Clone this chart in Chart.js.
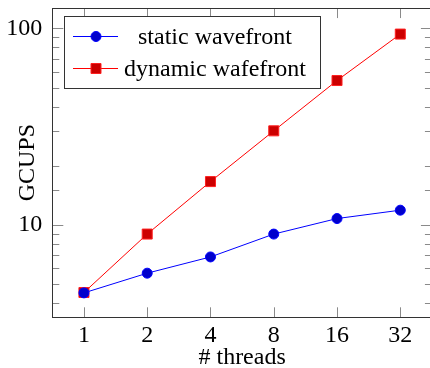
<!DOCTYPE html>
<html><head><meta charset="utf-8">
<script src="https://cdn.jsdelivr.net/npm/chart.js@4/dist/chart.umd.min.js"></script>
<style>
html,body{margin:0;padding:0;overflow:hidden;background:#fff;}
#wrap{width:440px;height:372px;position:relative;}
</style></head>
<body><div id="wrap"><canvas id="c"></canvas></div>
<script>
const threads = ['1','2','4','8','16','32'];
const staticWavefront = [4.5, 5.67, 6.86, 8.97, 10.76, 11.87];
const dynamicWafefront = [4.52, 8.97, 16.6, 30.1, 54.3, 93.6];
const seriesNames = ['static wavefront', 'dynamic wafefront'];
const yMajorLabels = [10, 100];

const FONT = "'Liberation Serif','Times New Roman',serif";
const FS = 24;
const AXIS = '#333333', TICK = '#8a8a8a';

const boxPlugin = {
  id: 'box',
  afterDatasetsDraw(chart) {
    const {ctx, chartArea: a, scales: {x, y}} = chart;
    ctx.save();
    ctx.lineWidth = 1;
    ctx.strokeStyle = TICK;
    ctx.beginPath();
    x.ticks.forEach((t, i) => {
      const px = Math.round(x.getPixelForTick(i)) + 0.5;
      ctx.moveTo(px, a.bottom); ctx.lineTo(px, a.bottom - 10);
      ctx.moveTo(px, a.top); ctx.lineTo(px, a.top + 10);
    });
    y.ticks.forEach(t => {
      const v = t.value;
      if (v < y.min || v > y.max) return;
      const major = Math.abs(Math.log10(v) - Math.round(Math.log10(v))) < 1e-9;
      const len = major ? 11 : 7;
      const py = Math.round(y.getPixelForValue(v)) + 0.5;
      ctx.moveTo(a.left, py); ctx.lineTo(a.left + len, py);
      ctx.moveTo(a.right, py); ctx.lineTo(a.right - len, py);
    });
    ctx.stroke();
    ctx.strokeStyle = AXIS;
    ctx.strokeRect(Math.round(a.left) + 0.5, Math.round(a.top) + 0.5, Math.round(a.right - a.left), Math.round(a.bottom - a.top));
    ctx.restore();
  },
  afterDraw(chart) {
    const {ctx} = chart;
    const L = 64.5, T = 16.5, W = 256, H = 72;
    ctx.save();
    ctx.fillStyle = '#fff';
    ctx.fillRect(L, T, W, H);
    ctx.strokeStyle = AXIS; ctx.lineWidth = 1;
    ctx.strokeRect(L, T, W, H);
    const rows = [36.5, 68.5];
    chart.data.datasets.forEach((ds, i) => {
      const yy = rows[i];
      ctx.strokeStyle = ds.borderColor; ctx.lineWidth = 1;
      ctx.beginPath(); ctx.moveTo(73, yy); ctx.lineTo(118, yy); ctx.stroke();
      ctx.fillStyle = ds.pointBackgroundColor; ctx.strokeStyle = ds.pointBorderColor;
      ctx.beginPath();
      if (ds.pointStyle === 'rect') { ctx.rect(91, yy - 5, 10, 10); }
      else { ctx.arc(96, yy, 5, 0, Math.PI * 2); }
      ctx.fill(); ctx.stroke();
      ctx.fillStyle = '#000';
      ctx.font = FS + 'px ' + FONT;
      ctx.textAlign = 'center'; ctx.textBaseline = 'middle';
      ctx.fillText(ds.label, 215, yy + 1);
    });
    ctx.restore();
  }
};

new Chart(document.getElementById('c'), {
  type: 'line',
  data: {
    labels: threads,
    datasets: [
      {label: seriesNames[0], data: staticWavefront, borderColor: '#0000ff', borderWidth: 1,
       pointStyle: 'circle', pointRadius: 5, pointBackgroundColor: '#0000cc', pointBorderColor: '#0000ff', pointBorderWidth: 1, tension: 0},
      {label: seriesNames[1], data: dynamicWafefront, borderColor: '#ff0000', borderWidth: 1,
       pointStyle: 'rect', pointRadius: 7.07, pointBackgroundColor: '#cc0000', pointBorderColor: '#ff2020', pointBorderWidth: 1, tension: 0}
    ]
  },
  options: {
    responsive: true, maintainAspectRatio: false, animation: false,
    layout: {padding: {left: 0, right: 7.6, top: 6, bottom: 0}},
    plugins: {legend: {display: false}, tooltip: {enabled: false}},
    scales: {
      x: {
        type: 'category', offset: true,
        grid: {display: false, drawTicks: false}, border: {display: false},
        ticks: {color: '#000', font: {family: FONT, size: FS}, padding: 4, maxRotation: 0},
        title: {display: true, text: '# threads', color: '#000', font: {family: FONT, size: FS}, padding: {top: 0, bottom: 0}},
        afterFit(s) { s.height = 54.7; s.paddingLeft = 0; s.paddingRight = 0; }
      },
      y: {
        type: 'logarithmic', min: 3.38, max: 127,
        grid: {display: false, drawTicks: false}, border: {display: false},
        ticks: {color: '#000', font: {family: FONT, size: FS}, padding: 10, autoSkip: false,
          callback: (v) => yMajorLabels.includes(v) ? String(v) : ''},
        title: {display: true, text: 'GCUPS', color: '#000', font: {family: FONT, size: FS}, padding: {top: 13, bottom: 0}},
        afterFit(s) { s.width = 52.3; s.paddingTop = 0; s.paddingBottom = 0; }
      }
    }
  },
  plugins: [boxPlugin]
});
</script></body></html>
